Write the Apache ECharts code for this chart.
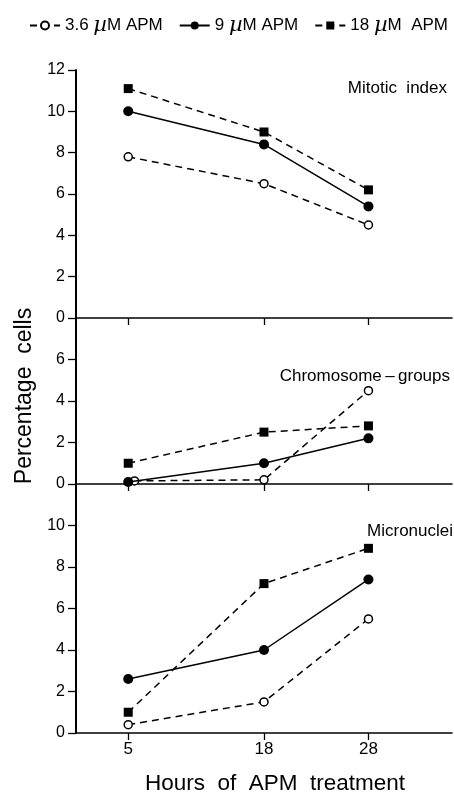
<!DOCTYPE html>
<html>
<head>
<meta charset="utf-8">
<script src="https://cdn.jsdelivr.net/npm/echarts@6/dist/echarts.min.js"></script>
<style>
html,body{margin:0;padding:0;background:#fff;}
#chart{width:454px;height:795px;}
</style>
</head>
<body>
<div id="chart"></div>
<script>
// ---- data ----
const hours = [5, 18, 28];
const seriesNames = ['3.6 µM APM', '9 µM APM', '18 µM  APM'];
// Mitotic index
const mitotic36 = [7.8, 6.5, 4.5];
const mitotic9  = [10.0, 8.4, 5.4];
const mitotic18 = [11.1, 9.0, 6.2];
// Chromosome-groups
const chromoHours36 = [5.6, 18, 28];
const chromo36 = [0.15, 0.2, 4.5];
const chromo9  = [0.1, 1.0, 2.2];
const chromo18 = [1.0, 2.5, 2.8];
// Micronuclei
const micro36 = [0.4, 1.5, 5.5];
const micro9  = [2.6, 4.0, 7.4];
const micro18 = [1.0, 7.2, 8.9];
const panelLabels = ['Mitotic  index', 'Chromosome\u2009\u2013\u2009groups', 'Micronuclei'];
const yTicksTop = [0, 2, 4, 6, 8, 10, 12];
const yTicksMid = [0, 2, 4, 6];
const yTicksBot = [0, 2, 4, 6, 8, 10];

const FONT = 'Liberation Sans, Arial, Helvetica, sans-serif';
const pairs = (xs, ys) => xs.map((x, i) => [x, ys[i]]);

const styles = [
  {symbol: 'circle', symbolSize: 8, itemStyle: {color: '#fff', borderColor: '#000', borderWidth: 1.5}, lineStyle: {color: '#000', width: 1.5, type: [7, 5]}},
  {symbol: 'circle', symbolSize: 10, itemStyle: {color: '#000', borderColor: '#000', borderWidth: 0}, lineStyle: {color: '#000', width: 1.5, type: 'solid'}},
  {symbol: 'rect', symbolSize: 9, itemStyle: {color: '#000', borderColor: '#000', borderWidth: 0}, lineStyle: {color: '#000', width: 1.5, type: [7, 5]}}
];

const grids = [
  {left: 76, right: 2, top: 70, height: 248},
  {left: 76, right: 2, top: 318, height: 166},
  {left: 76, right: 2, top: 484, height: 249}
];

function xAxis(i, showLabels) {
  return {
    type: 'value', gridIndex: i, min: 0, max: 36,
    axisLine: {show: true, onZero: false, lineStyle: {color: '#000', width: 1.5}},
    axisTick: {show: true, customValues: hours, length: 7, inside: false, lineStyle: {color: '#000', width: 1.3}},
    axisLabel: {show: showLabels, customValues: hours, color: '#000', fontFamily: FONT, fontSize: 17, margin: 8},
    splitLine: {show: false}
  };
}
function yAxis(i, max, ticks, extra) {
  return Object.assign({
    type: 'value', gridIndex: i, min: 0, max: max, interval: 2,
    axisLine: {show: true, lineStyle: {color: '#000', width: 2}},
    axisTick: {show: true, customValues: ticks, length: 8, lineStyle: {color: '#000', width: 1.3}},
    axisLabel: {customValues: ticks, color: '#000', fontFamily: FONT, fontSize: 16, margin: 11},
    splitLine: {show: false}
  }, extra || {});
}

const panelData = [
  [pairs(hours, mitotic36), pairs(hours, mitotic9), pairs(hours, mitotic18)],
  [pairs(chromoHours36, chromo36), pairs(hours, chromo9), pairs(hours, chromo18)],
  [pairs(hours, micro36), pairs(hours, micro9), pairs(hours, micro18)]
];

const series = [];
panelData.forEach((pd, gi) => {
  pd.forEach((d, si) => {
    series.push(Object.assign({
      type: 'line', name: seriesNames[si], xAxisIndex: gi, yAxisIndex: gi,
      data: d, showSymbol: true, animation: false, z: 3 + si
    }, JSON.parse(JSON.stringify(styles[si]))));
  });
});

const option = {
  backgroundColor: '#fff',
  animation: false,
  grid: grids,
  xAxis: [xAxis(0, false), xAxis(1, false), xAxis(2, true)],
  yAxis: [
    yAxis(0, 12, yTicksTop),
    yAxis(1, 8, yTicksMid, {name: 'Percentage  cells', nameLocation: 'middle', nameGap: 40,
      nameTextStyle: {color: '#000', fontFamily: FONT, fontSize: 23, padding: [0, 0, 0, 10]}}),
    yAxis(2, 12, yTicksBot)
  ],
  legend: {
    left: 24, top: 10, itemWidth: 30, itemHeight: 10, itemGap: 16,
    data: seriesNames,
    formatter: function (name) {
      const parts = name.split('µ');
      return '{t|' + parts[0] + '}{mu|µ}{t|' + parts[1] + '}';
    },
    textStyle: {
      color: '#000', fontFamily: FONT, fontSize: 17,
      rich: {
        t: {fontFamily: FONT, fontSize: 17, color: '#000'},
        mu: {fontFamily: 'DejaVu Serif, serif', fontStyle: 'italic', fontSize: 21, color: '#000'}
      }
    }
  },
  graphic: [
    {type: 'text', right: 7, top: 80, style: {text: panelLabels[0], font: '17px ' + FONT, fill: '#000'}},
    {type: 'text', right: 4, top: 368, style: {text: panelLabels[1], font: '17px ' + FONT, fill: '#000'}},
    {type: 'text', right: 1, top: 523, style: {text: panelLabels[2], font: '17px ' + FONT, fill: '#000'}},
    {type: 'text', left: 145, top: 772, style: {text: 'Hours  of  APM  treatment', font: '22.5px ' + FONT, fill: '#000'}}
  ],
  series: series
};

const chart = echarts.init(document.getElementById('chart'), null, {renderer: 'canvas'});
chart.setOption(option);
</script>
</body>
</html>
